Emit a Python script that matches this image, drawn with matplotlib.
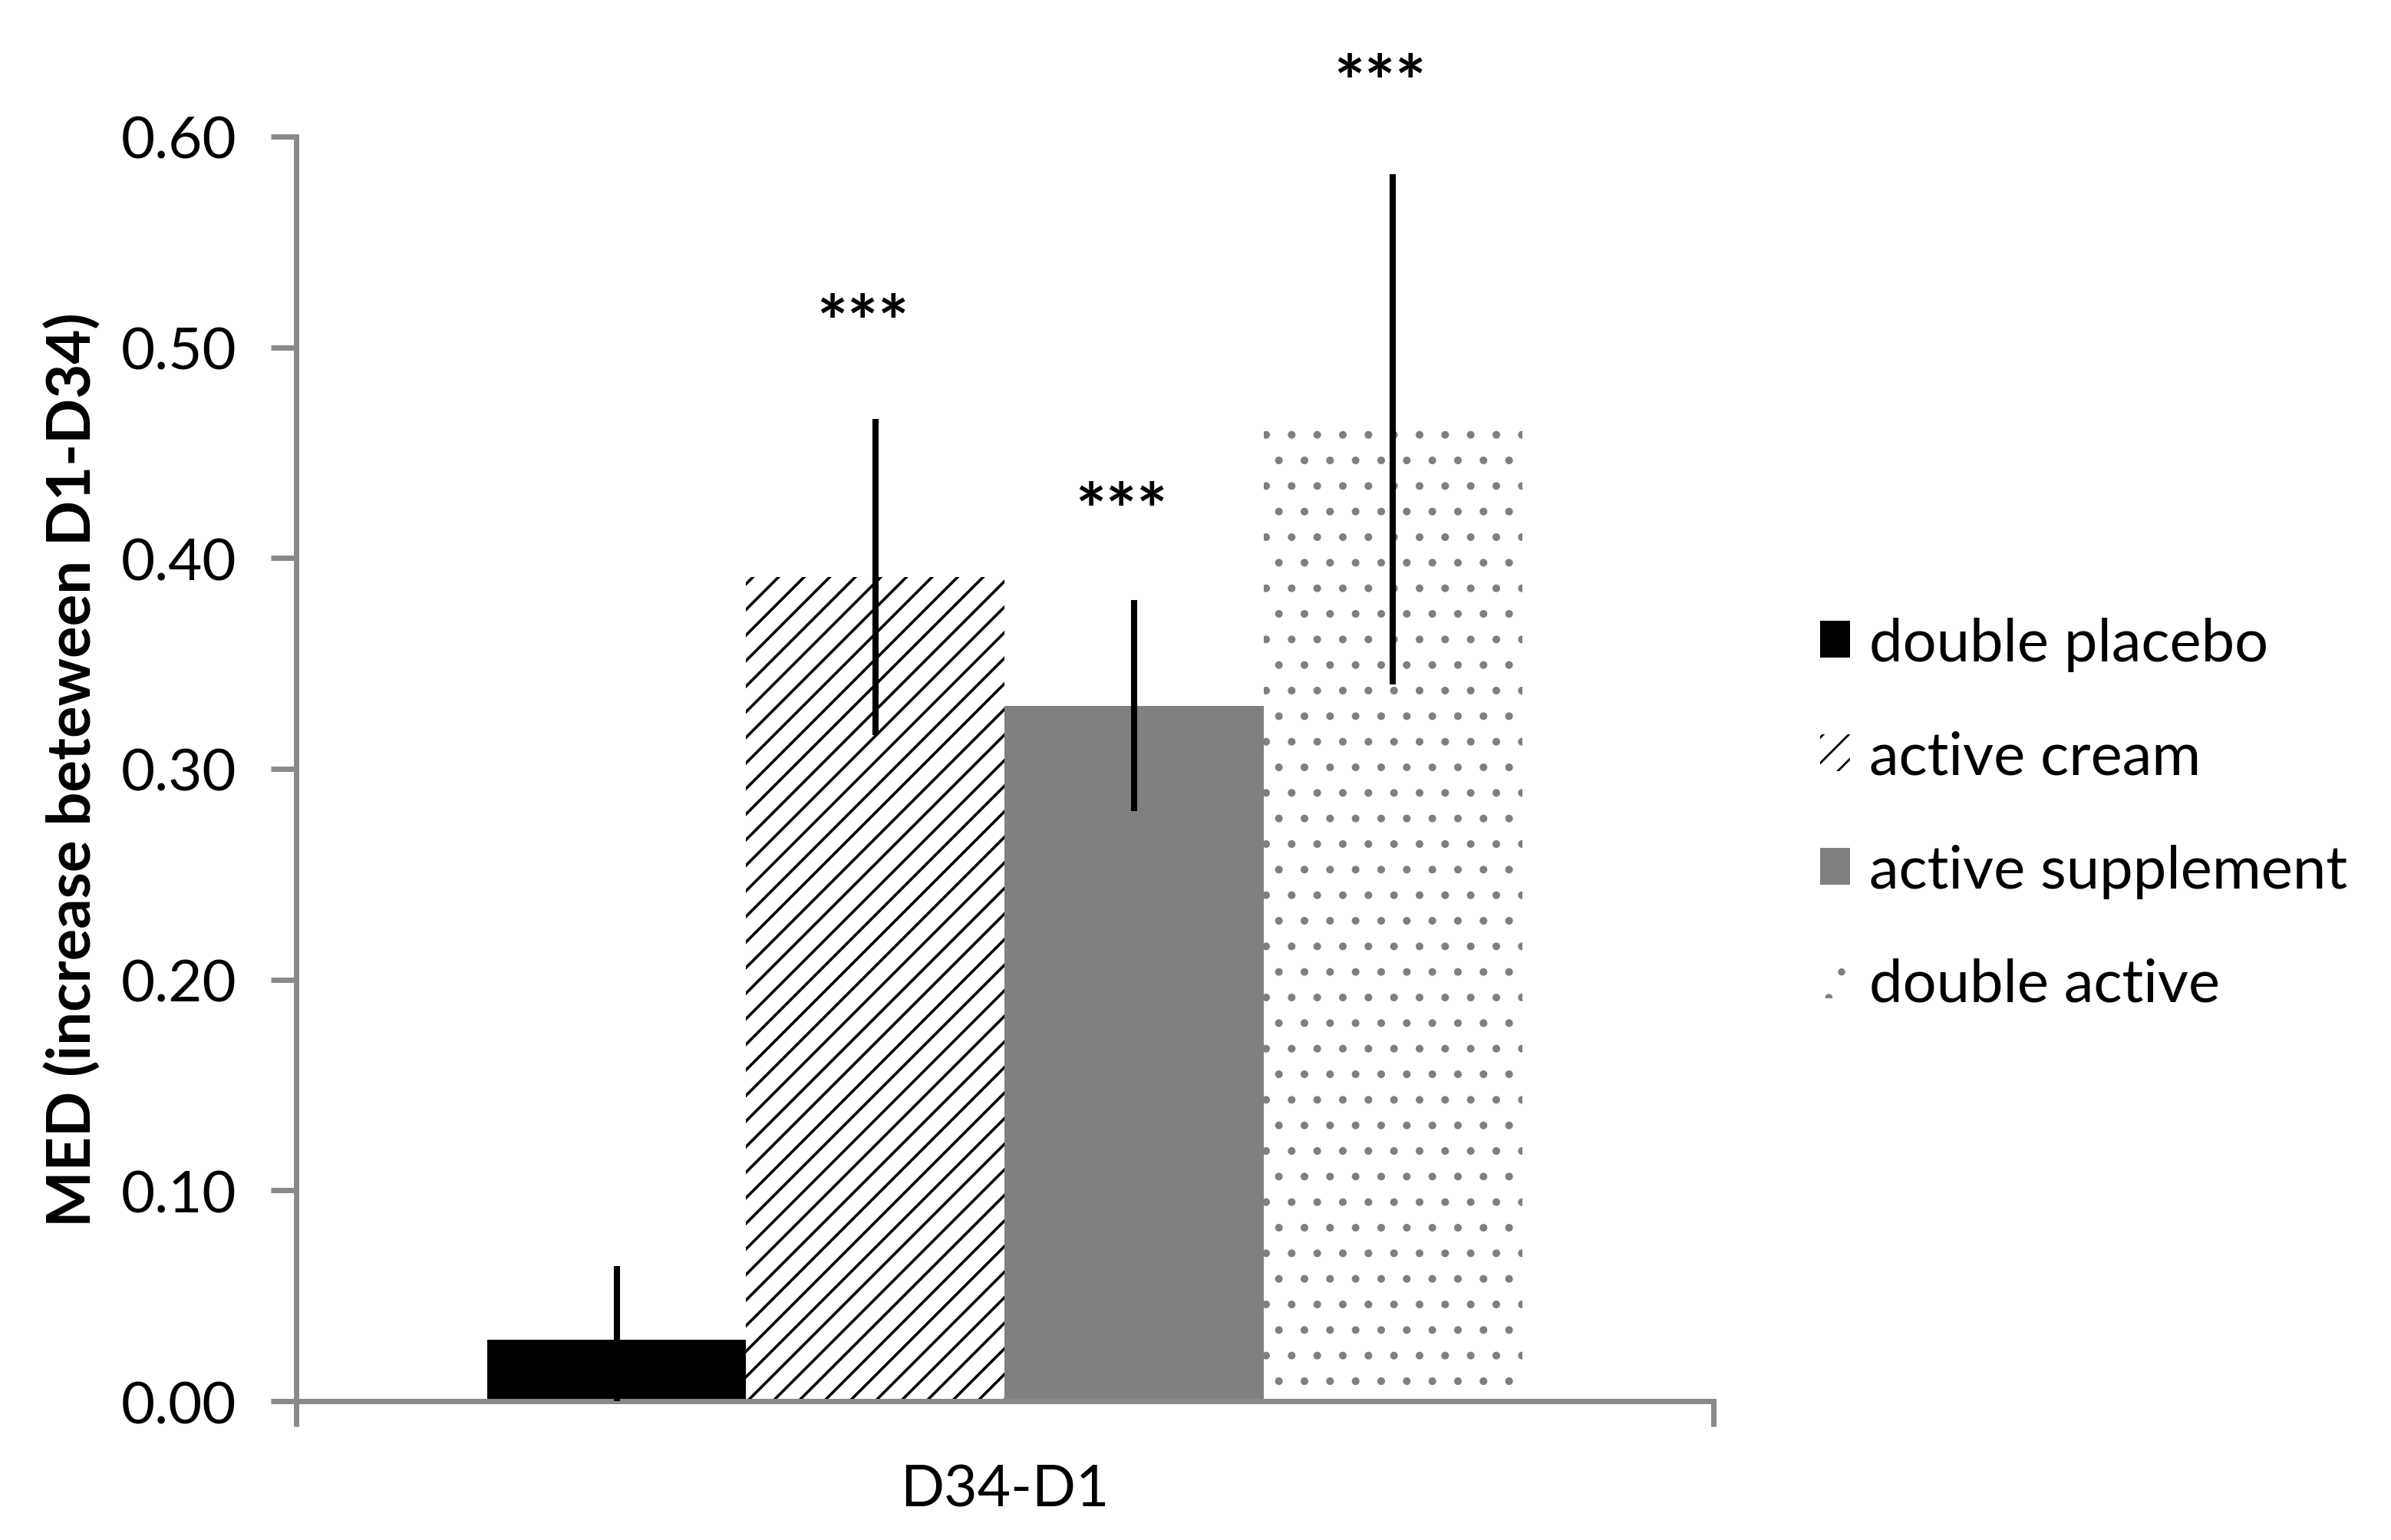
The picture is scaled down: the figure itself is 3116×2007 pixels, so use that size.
import numpy as np
import matplotlib
matplotlib.use('Agg')
import matplotlib.pyplot as plt

# data
groups = ['double placebo', 'active cream', 'active supplement', 'double active']
means = [0.029, 0.391, 0.330, 0.461]
errors = [0.035, 0.075, 0.050, 0.121]
stars = ['', '***', '***', '***']
star_y = [0.0, 0.510, 0.421, 0.624]
category = 'D34-D1'
yticks = [0.0, 0.1, 0.2, 0.3, 0.4, 0.5, 0.6]

# styles
face = ['black', 'white', '#808080', 'white']
edge = ['black', 'black', '#808080', '#7f7f7f']
hatches = [None, '//', None, '.']
hatch_lw = [1.0, 1.3, 1.0, 1.2]
gray = '#898989'

plt.rcParams['font.family'] = ['Lato', 'DejaVu Sans']

fig = plt.figure(figsize=(15.58, 10.04), dpi=200)
ax = fig.add_axes([0.1239, 0.0901, 0.5927, 0.8208])

width = 0.1825
x = 0.5 + (np.arange(len(groups)) - 1.5) * width
for i in range(len(groups)):
    with plt.rc_context({'hatch.linewidth': hatch_lw[i]}):
        ax.bar(x[i], means[i], width, color=face[i], edgecolor=edge[i],
               hatch=hatches[i], linewidth=0, label=groups[i], zorder=2)
ax.errorbar(x, means, yerr=errors, fmt='none', ecolor='black',
            elinewidth=2.9, capsize=0, zorder=3)

for i in range(len(groups)):
    if stars[i]:
        ax.text(x[i] - 0.009, star_y[i], stars[i], ha='center', va='center',
                fontsize=34, fontweight='bold', clip_on=False)

ax.set_xlim(0, 1)
ax.set_ylim(0, 0.6)
ax.set_xticks([0, 1])
ax.set_xticklabels([])
ax.set_xticks([0.5], minor=True)
ax.set_xticklabels([category], minor=True)
ax.tick_params(axis='x', which='minor', length=0, pad=29, labelsize=27)
ax.tick_params(axis='x', which='major', length=12, width=2.5, color=gray,
               direction='out')
ax.set_yticks(yticks)
ax.set_yticklabels([f'{v:.2f}' for v in yticks])
ax.tick_params(axis='y', length=12, width=2.5, color=gray, direction='out',
               pad=16, labelsize=27.5)

for s in ['top', 'right']:
    ax.spines[s].set_visible(False)
for s in ['left', 'bottom']:
    ax.spines[s].set_color(gray)
    ax.spines[s].set_linewidth(2.5)

ax.set_ylabel('MED (increase beteween D1-D34)', fontsize=28,
              fontweight='bold', va='center')
ax.yaxis.set_label_coords(-0.1576, 0.5)

fig.legend(loc='center left', bbox_to_anchor=(0.7612, 0.4711), frameon=False,
           fontsize=28, handlelength=0.5, handleheight=0.58,
           handletextpad=0.32, labelspacing=0.99, borderpad=0,
           borderaxespad=0)

fig.savefig('out.png', dpi=200)
